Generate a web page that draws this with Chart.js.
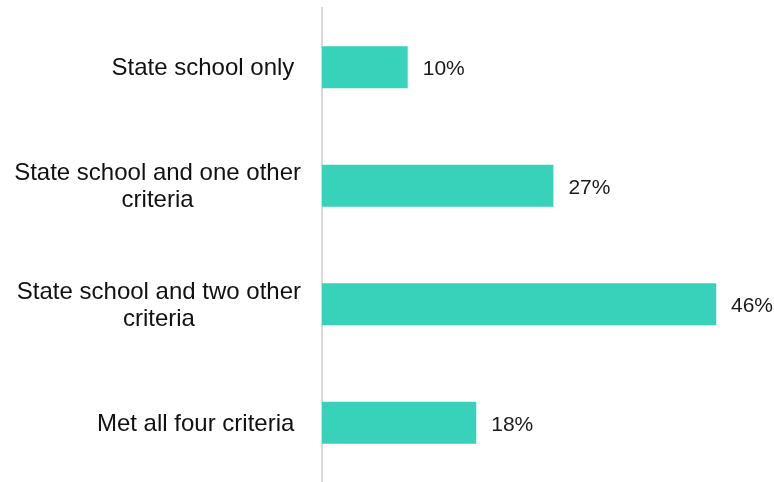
<!DOCTYPE html>
<html>
<head>
<meta charset="utf-8">
<script src="https://cdn.jsdelivr.net/npm/chart.js@4"></script>
<style>
  html, body { margin: 0; padding: 0; background: #fff; }
  #wrap { width: 774px; height: 482px; }
</style>
</head>
<body>
<div id="wrap"><canvas id="barChart"></canvas></div>
<script>
// Categories (already split into lines as in the picture)
const categories = [
  ["State school only"],
  ["State school and one other", "criteria"],
  ["State school and two other", "criteria"],
  ["Met all four criteria"],
];
// Share of respondents, %
const shares = [10, 27, 46, 18];
const valueLabels = ["10%", "27%", "46%", "18%"];

// Draw the category labels: right edge fixed, lines centered within each block
const categoryLabels = {
  id: "categoryLabels",
  afterDraw(chart) {
    const ctx = chart.ctx;
    const yScale = chart.scales.y;
    const right = 301;
    const lineH = 27;
    ctx.save();
    ctx.font = "24px 'Liberation Sans', Arial, sans-serif";
    ctx.fillStyle = "#111";
    ctx.textAlign = "center";
    ctx.textBaseline = "alphabetic";
    categories.forEach((lines, i) => {
      const cy = yScale.getPixelForTick(i);
      // single lines carry a trailing space in the original layout
      const widths = lines.map((l) => ctx.measureText(lines.length === 1 ? l + " " : l).width);
      const blockW = Math.max(...widths);
      const cx = right - blockW / 2;
      const first = cy + 8 - ((lines.length - 1) * lineH) / 2;
      lines.forEach((l, j) => {
        const w = ctx.measureText(l).width;
        const x = lines.length === 1 ? right - widths[0] + w / 2 : cx;
        ctx.fillText(l, x, first + j * lineH);
      });
    });
    ctx.restore();
  },
};

// Value labels to the right of each bar
const barValues = {
  id: "barValues",
  afterDatasetsDraw(chart) {
    const ctx = chart.ctx;
    const meta = chart.getDatasetMeta(0);
    ctx.save();
    ctx.font = "21px 'Liberation Sans', Arial, sans-serif";
    ctx.fillStyle = "#1a1a1a";
    ctx.textAlign = "left";
    ctx.textBaseline = "alphabetic";
    meta.data.forEach((bar, i) => {
      const w = ctx.measureText(valueLabels[i]).width;
      const x = Math.min(bar.x + 15, chart.width - w - 1);
      ctx.fillText(valueLabels[i], x, bar.y + 8);
    });
    ctx.restore();
  },
};

const ctx = document.getElementById("barChart").getContext("2d");
new Chart(ctx, {
  type: "bar",
  data: {
    labels: categories,
    datasets: [
      {
        data: shares,
        backgroundColor: "#38d1b9",
        borderWidth: 0,
        barPercentage: 1,
        categoryPercentage: 0.355,
      },
    ],
  },
  options: {
    indexAxis: "y",
    responsive: true,
    maintainAspectRatio: false,
    animation: false,
    layout: {
      padding: { left: 322, right: 23.5, top: 8, bottom: 0 },
    },
    plugins: {
      legend: { display: false },
      tooltip: { enabled: false },
    },
    scales: {
      x: {
        display: false,
        min: 0,
        max: 50,
      },
      y: {
        display: true,
        grid: { display: false, drawTicks: false },
        ticks: { display: false },
        border: { display: true, color: "#d9d9d9", width: 2 },
      },
    },
  },
  plugins: [categoryLabels, barValues],
});
</script>
</body>
</html>
